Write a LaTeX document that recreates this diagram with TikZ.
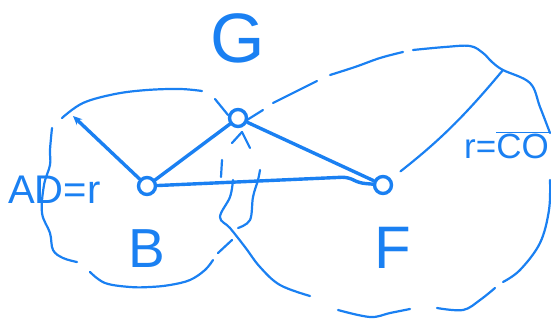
\documentclass[tikz,border=0pt]{standalone}
\usepackage{fontspec}
\setmainfont{Liberation Sans}
\usepackage{tikz}
\usetikzlibrary{positioning,arrows.meta}
\definecolor{penBlue}{HTML}{1A80F2}

\begin{document}
\begin{tikzpicture}[
  x=1pt, y=-1pt,
  pen/.style={draw=penBlue, line width=3.4pt, line cap=round, line join=round},
  outline/.style={draw=penBlue, line width=2.2pt, line cap=round, line join=round},
  pt/.style={circle, draw=penBlue, line width=3.4pt, minimum size=17pt, inner sep=0pt},
  lbl/.style={text=penBlue, inner sep=0pt},
]
\useasboundingbox (0,0) rectangle (551,324);

% ---- Puntos ----
\node[pt] (B) at (147,186) {};
\node[pt] (G) at (238,118) {};
\node[pt] (F) at (383,185) {};
\coordinate (ad)   at (73,116);
\coordinate (wigA) at (348,177);
\coordinate (wigB) at (359,183);
\coordinate (rtip) at (503,70);

% ---- Etiquetas ----
\node[lbl, font=\fontsize{70}{70}\selectfont, above=44pt of G] (labG) {G};
\node[lbl, font=\fontsize{55}{55}\selectfont, below=33pt of B] (labB) {B};
\node[lbl, font=\fontsize{60}{60}\selectfont, below=32pt of F, xshift=10pt] (labF) {F};
\node[lbl, font=\fontsize{40}{40}\selectfont, anchor=base west] (labAD) at (8,203) {AD=r};
\node[lbl, font=\fontsize{35}{35}\selectfont, anchor=base east] (labR) at (549,158) {r=$\overline{\hbox{CO}}$};

% ---- Segmentos ----
\draw[pen, -{Stealth[length=9pt,width=8pt]}] (B) -- (ad);
\draw[pen] (B) -- (G);
\draw[pen] (G) -- (F);
\draw[pen, rounded corners=6pt] (B) -- (wigA) -- (wigB) -- (F);
\draw[outline, shorten <=12pt] (F) to[bend right=6] (rtip);

% ---- Region izquierda ----
\draw[outline] plot[smooth, tension=0.6] coordinates {(62,118) (83,103) (115,94) (147,90) (180,89) (202,91)};
\draw[outline] plot[smooth, tension=0.6] coordinates {(52,128) (50,150) (50,165) (44,185) (42,213) (50,233) (53,250) (63,258) (77,262)};
\draw[outline] plot[smooth, tension=0.6] coordinates {(90,272) (105,283) (130,287) (150,287) (170,285) (190,280) (205,270) (213,260)};
\draw[outline] plot[smooth, tension=0.6] coordinates {(218,253) (232,240)};
\draw[outline] plot[smooth, tension=0.6] coordinates {(238,228) (250,220) (253,197) (258,180) (260,170)};

% ---- Region derecha ----
\draw[outline] (247,120) -- (263,110);
\draw[outline] plot[smooth, tension=0.6] coordinates {(273,103) (295,92) (317,81)};
\draw[outline] plot[smooth, tension=0.6] coordinates {(330,75) (355,67) (380,58) (403,52)};
\draw[outline] plot[smooth, tension=0.6] coordinates {(413,50) (445,47) (470,46) (483,53) (492,62) (503,70) (530,83) (540,107) (550,133)};
\draw[outline] plot[smooth, tension=0.6] coordinates {(550,180) (549,210) (540,243) (520,270) (503,282)};
\draw[outline] plot[smooth, tension=0.6] coordinates {(495,288) (480,300) (463,310) (437,308)};
\draw[outline] plot[smooth, tension=0.6] coordinates {(410,309) (390,313) (370,317) (338,310)};
\draw[outline] plot[smooth, tension=0.6] coordinates {(310,296) (280,285) (260,267) (245,247) (230,228) (220,217) (230,197) (233,180)};
\draw[outline] (222,160) -- (221,177);

% ---- Marcas en G ----
\draw[outline] (215,99) -- (228,115);
\draw[outline] (242,132) -- (232,143);
\draw[outline] (242,132) -- (250,148);

\end{tikzpicture}
\end{document}
